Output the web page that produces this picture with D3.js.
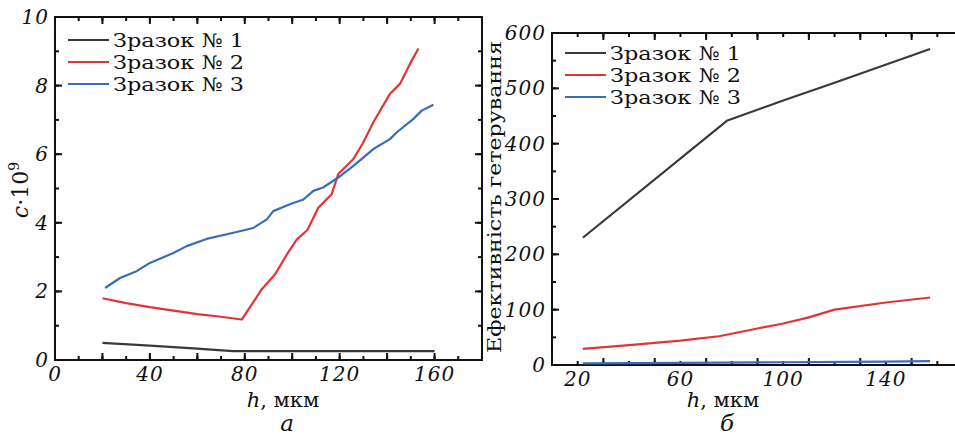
<!DOCTYPE html>
<html><head><meta charset="utf-8">
<script src="https://cdn.jsdelivr.net/npm/d3@7"></script>
<style>body{margin:0;background:#fff}svg{display:block}text{font-family:"DejaVu Serif",serif}</style>
</head><body><svg id="c" width="955" height="437"></svg>
<script>
// ---- Data: chart a ----
const seriesNames = ["Зразок № 1", "Зразок № 2", "Зразок № 3"];
const colors = ["#3d3838", "#e23434", "#3a6cb8"];

const aX1 = [20, 40, 60, 75, 160];
const aY1 = [0.5, 0.42, 0.33, 0.26, 0.26];
const aX2 = [20, 30, 40, 50, 60, 70, 78.7, 83, 87, 92.7, 97.7, 101.9, 106.4, 111, 116.6, 118.7, 119.4, 125.8, 130, 134.2, 141.2, 145.4, 149.7, 153.2];
const aY2 = [1.8, 1.66, 1.54, 1.44, 1.34, 1.26, 1.18, 1.62, 2.05, 2.49, 3.07, 3.51, 3.79, 4.44, 4.83, 5.27, 5.42, 5.86, 6.35, 6.93, 7.76, 8.05, 8.64, 9.08];
const aX3 = [21.1, 27.4, 34.4, 40, 49.9, 55.5, 63.9, 75.2, 83.6, 89.3, 92, 99, 104.7, 108.9, 113, 119.4, 125.8, 134.2, 141.2, 144.1, 151.1, 154.6, 159.5];
const aY3 = [2.1, 2.39, 2.59, 2.83, 3.12, 3.32, 3.53, 3.71, 3.85, 4.1, 4.34, 4.54, 4.68, 4.93, 5.03, 5.32, 5.66, 6.15, 6.44, 6.64, 7.03, 7.27, 7.44];
const aXTicks = [0, 40, 80, 120, 160];
const aYTicks = [0, 2, 4, 6, 8, 10];

// ---- Data: chart б ----
const bX1 = [22, 78.3, 100, 120, 157.2];
const bY1 = [230, 442, 478, 510, 571];
const bX2 = [22, 40, 60, 75, 90, 100, 110, 120, 140, 157.2];
const bY2 = [29, 36, 44, 52, 66, 75, 86, 100, 113, 122];
const bX3 = [22, 60, 100, 140, 157.2];
const bY3 = [3, 4, 5, 6, 7];
const bXTicks = [20, 60, 100, 140];
const bYTicks = [0, 100, 200, 300, 400, 500, 600];

const svg = d3.select("#c");
const zip = (xs, ys) => xs.map((x, i) => [x, ys[i]]);

function panel(o) {
  const g = svg.append("g");
  const x = d3.scaleLinear().domain(o.xd).range([o.l, o.r]);
  const y = d3.scaleLinear().domain(o.yd).range([o.b, o.t]);
  g.append("rect").attr("x", o.l).attr("y", o.t).attr("width", o.r - o.l).attr("height", o.b - o.t)
    .attr("fill", "#fff");
  const tk = (vals, len, axis) => {
    vals.forEach(v => {
      if (axis === "x") {
        const px = x(v);
        if (px < o.l - 0.5 || px > o.r + 0.5) return;
        g.append("line").attr("x1", px).attr("x2", px).attr("y1", o.b).attr("y2", o.b - len).attr("stroke", "#111").attr("stroke-width", 2);
        g.append("line").attr("x1", px).attr("x2", px).attr("y1", o.t).attr("y2", o.t + len).attr("stroke", "#111").attr("stroke-width", 2);
      } else {
        const py = y(v);
        g.append("line").attr("y1", py).attr("y2", py).attr("x1", o.l).attr("x2", o.l + len).attr("stroke", "#111").attr("stroke-width", 2);
        g.append("line").attr("y1", py).attr("y2", py).attr("x1", o.r).attr("x2", o.r - len).attr("stroke", "#111").attr("stroke-width", 2);
      }
    });
  };
  tk(d3.range(o.xd[0], o.xd[1] + 0.1, o.xMinor), 4, "x");
  tk(d3.range(o.xd[0], o.xd[1] + 0.1, o.xMajor), 7, "x");
  tk(d3.range(o.yd[0], o.yd[1] + 0.1, o.yMinor), 4, "y");
  tk(d3.range(o.yd[0], o.yd[1] + 0.1, o.yMajor), 7, "y");
  g.append("rect").attr("x", o.l).attr("y", o.t).attr("width", o.r - o.l).attr("height", o.b - o.t)
    .attr("fill", "none").attr("stroke", "#111").attr("stroke-width", 2);
  g.selectAll(".xl").data(o.xTicks).join("text").attr("x", d => x(d)).attr("y", o.b + 21)
    .attr("text-anchor", "middle").attr("font-style", "italic").attr("font-size", 20)
    .attr("letter-spacing", 1).attr("fill", "#111").text(d => d);
  g.selectAll(".yl").data(o.yTicks).join("text").attr("x", o.l - 6).attr("y", d => y(d) + 7)
    .attr("text-anchor", "end").attr("font-style", "italic").attr("font-size", 20)
    .attr("letter-spacing", 1).attr("fill", "#111").text(d => d);
  const line = d3.line().x(d => x(d[0])).y(d => y(d[1]));
  o.series.forEach((s, i) => {
    g.append("path").attr("d", line(s)).attr("fill", "none").attr("stroke", colors[i]).attr("stroke-width", 2.2)
      .attr("stroke-linejoin", "round");
  });
  seriesNames.forEach((n, i) => {
    const ly = o.legY + i * 22;
    g.append("line").attr("x1", o.legX).attr("x2", o.legX + 41).attr("y1", ly).attr("y2", ly)
      .attr("stroke", colors[i]).attr("stroke-width", 2.2);
    g.append("text").attr("x", o.legX + 45).attr("y", ly + 7).attr("font-size", 19)
      .attr("textLength", 131).attr("lengthAdjust", "spacingAndGlyphs").attr("fill", "#111").text(n);
  });
  const xt = g.append("text").attr("x", o.xTitleX).attr("y", 407).attr("text-anchor", "middle").attr("font-size", 21).attr("fill", "#111");
  xt.append("tspan").attr("font-style", "italic").text("h");
  xt.append("tspan").text(", мкм");
  g.append("text").attr("x", o.xTitleX + 4).attr("y", 431).attr("text-anchor", "middle").attr("font-size", 23)
    .attr("font-style", "italic").attr("fill", "#111").text(o.panelLabel);
  return g;
}

const ga = panel({
  l: 55, r: 482, t: 17, b: 360, xd: [0, 180], yd: [0, 10],
  xMinor: 10, xMajor: 20, yMinor: 1, yMajor: 2,
  xTicks: aXTicks, yTicks: aYTicks,
  series: [zip(aX1, aY1), zip(aX2, aY2), zip(aX3, aY3)],
  legX: 68, legY: 40, xTitleX: 283, panelLabel: "a"
});
const ya = ga.append("text").attr("transform", "translate(28,190) rotate(-90)").attr("text-anchor", "middle")
  .attr("font-size", 22).attr("fill", "#111");
ya.append("tspan").attr("font-style", "italic").text("c");
ya.append("tspan").text("·10");
ya.append("tspan").attr("dy", -9).attr("font-size", 14).text("9");

const gb = panel({
  l: 552, r: 963, t: 33, b: 365, xd: [10, 170], yd: [0, 600],
  xMinor: 10, xMajor: 20, yMinor: 50, yMajor: 100,
  xTicks: bXTicks, yTicks: bYTicks,
  series: [zip(bX1, bY1), zip(bX2, bY2), zip(bX3, bY3)],
  legX: 565, legY: 53, xTitleX: 723, panelLabel: "б"
});
gb.append("text").attr("transform", "translate(501,197) rotate(-90)").attr("text-anchor", "middle")
  .attr("font-size", 19).attr("textLength", 312).attr("lengthAdjust", "spacingAndGlyphs")
  .attr("fill", "#111").text("Ефективність гетерування");
</script></body></html>
